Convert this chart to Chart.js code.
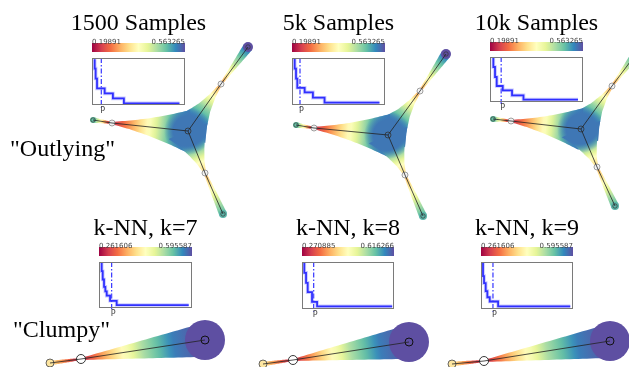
<!DOCTYPE html>
<html>
<head>
<meta charset="utf-8">
<script src="https://cdn.jsdelivr.net/npm/chart.js@4"></script>
<style>
  body { margin: 0; background: #fff; }
  #wrap { position: relative; width: 629px; height: 367px; overflow: hidden; background: #fff; }
  #wrap canvas { position: absolute; }
  .ttl { position: absolute; width: 200px; text-align: center; white-space: nowrap;
         font: 24px "Liberation Serif", "Times New Roman", serif; line-height: 24px; color: #000; }
  .row { position: absolute; white-space: nowrap;
         font: 24px "Liberation Serif", "Times New Roman", serif; line-height: 24px; color: #000; }
</style>
</head>
<body>
<div id="wrap">
  <canvas id="trees" width="629" height="367" style="left:0;top:0"></canvas>
</div>
<script>
// panel titles and colour bar ranges
const titles = ["1500 Samples", "5k Samples", "10k Samples", "k-NN, k=7", "k-NN, k=8", "k-NN, k=9"];
const rowLabels = ['"Outlying"', '"Clumpy"'];
const cbMin = ["0.19891", "0.19891", "0.19891", "0.261606", "0.270885", "0.261606"];
const cbMax = ["0.563265", "0.563265", "0.563265", "0.595587", "0.616266", "0.595587"];

// step curves of the insets (percent of the box)
const stepX = [
  [2.9, 3.9, 5.4, 13.6, 22.5, 34.3, 94],
  [2.9, 4.3, 5.7, 13.6, 22.5, 35, 94],
  [3.6, 5.4, 7.2, 13.7, 23.7, 36, 94.6],
  [2.9, 4, 5.4, 6.8, 8.3, 11.9, 19, 96.4],
  [2.5, 4.4, 6.2, 10.9, 16.4, 98],
  [2.2, 3.3, 5.1, 6.9, 9.5, 18.6, 97]
];
const stepY = [
  [97.2, 77.5, 56.3, 35.2, 24.6, 14.1, 3.5],
  [98.6, 77.5, 56.3, 36.6, 26.8, 15.5, 5],
  [97.8, 77.8, 55.6, 35.6, 26, 14.8, 5.2],
  [98.6, 80, 62, 46, 36, 26.8, 15.7, 6.4],
  [98.6, 77, 55.7, 35.7, 15, 5.7],
  [97.9, 70, 55, 38, 25, 16, 5.6]
];
const pMark = [10, 8.6, 12, 13.6, 12.7, 13];

// "Outlying" skeletons: center, upper node, upper tip, left node, left tip, lower node, lower tip
const outX = [[188, 221, 248, 112, 93, 205, 223], [388, 420, 446, 314, 296, 405, 423], [581, 612, 639, 511, 493, 597, 615]];
const outY = [[131, 84, 47, 123, 120, 173, 214], [135, 91, 54, 128, 125, 175, 216], [129, 86, 50, 121, 119, 167, 206]];
const outEdges = [[1, 2], [3, 4], [5, 6], [0, 1], [0, 3], [0, 5]];
const outVals = [
  [0.26, 0.45, 0.65, 0.8, 0.95],
  [0.06, 0.15, 0.4, 0.65, 0.8],
  [0.32, 0.42, 0.56, 0.7, 0.82],
  [0.93, 0.92, 0.74, 0.5, 0.26],
  [0.93, 0.8, 0.52, 0.28, 0.06],
  [0.93, 0.92, 0.72, 0.5, 0.38]
];
const outThick = [
  [1.2, 2, 3, 4, 5],
  [1.2, 1.4, 1.8, 2.3, 3],
  [1.2, 2, 2.8, 3.4, 4],
  [21, 13, 7, 3.2, 1.2],
  [21, 14.5, 9, 4.5, 1.2],
  [21, 13.5, 8.5, 4, 1.2]
];
const outBlobs = [[0, 24, 0.93, 1], [2, 5, 1.0, 0], [4, 3, 0.8, 0], [6, 4, 0.82, 0]]; // node, radius, value, soft edge

// "Clumpy" skeletons: tip, crossed node, big node
const clX = [[50, 81, 205], [263, 293, 409], [452, 484, 610]];
const clY = [[363, 359, 340], [364, 360, 342], [364, 361, 341]];
const clEdges = [[0, 1], [1, 2]];
const clVals = [[0.42, 0.32, 0.22, 0.12, 0.05], [0.05, 0.38, 0.7, 0.92, 1.0]];
const clThick = [[2.2, 2, 1.7, 1.4, 1], [1, 5, 9, 13, 17]];
const clBlobs = [[2, 20, 1.0, 0]];

// layout of the small step plots
const insetBox = [
  { x: 92, y: 58, w: 93, h: 47 }, { x: 292, y: 58, w: 93, h: 47 }, { x: 490, y: 57, w: 93, h: 45 },
  { x: 99, y: 262, w: 93, h: 46 }, { x: 302, y: 262, w: 92, h: 47 }, { x: 481, y: 262, w: 92, h: 47 }
];

// Spectral, low = red, high = purple
const spectral = ["#9e0142", "#d53e4f", "#f46d43", "#fdae61", "#fee08b", "#ffffbf", "#e6f598", "#abdda4", "#66c2a5", "#3288bd", "#5e4fa2"];
const specRGB = spectral.map(c => [1, 3, 5].map(i => parseInt(c.slice(i, i + 2), 16)));
function cmapRGB(v) {
  v = Math.max(0, Math.min(1, v));
  const f = v * 10, i = Math.min(9, Math.floor(f)), t = f - i;
  const a = specRGB[i], b = specRGB[i + 1];
  return a.map((c, k) => Math.round(c + (b[k] - c) * t));
}
function cmap(v, alpha) {
  const c = cmapRGB(v);
  return alpha === undefined ? "rgb(" + c.join(",") + ")" : "rgba(" + c.join(",") + "," + alpha + ")";
}
function along(arr, t) {
  const f = t * (arr.length - 1), i = Math.min(arr.length - 2, Math.floor(f)), u = f - i;
  return arr[i] + (arr[i + 1] - arr[i]) * u;
}
// add a polygon to the current path, always with the same winding
function addPoly(ctx, poly) {
  let area = 0;
  poly.forEach((p, j) => { const q = poly[(j + 1) % poly.length]; area += p[0] * q[1] - q[0] * p[1]; });
  const list = area < 0 ? poly.slice().reverse() : poly;
  list.forEach((p, j) => j ? ctx.lineTo(p[0], p[1]) : ctx.moveTo(p[0], p[1]));
  ctx.closePath();
}

const wrap = document.getElementById("wrap");

// ---------- titles ----------
const cbCenters = insetBox.map(b => b.x + b.w / 2);
titles.forEach((t, i) => {
  const d = document.createElement("div");
  d.className = "ttl";
  d.textContent = t;
  d.style.left = (cbCenters[i] - 100) + "px";
  d.style.top = (i < 3 ? 10 : 215) + "px";
  wrap.appendChild(d);
});
[[10, 136], [13, 317]].forEach((p, i) => {
  const d = document.createElement("div");
  d.className = "row";
  d.textContent = rowLabels[i];
  d.style.left = p[0] + "px";
  d.style.top = p[1] + "px";
  wrap.appendChild(d);
});

// ---------- skeleton chart ----------
const trees = [];
for (let i = 0; i < 3; i++) trees.push({ x: outX[i], y: outY[i], edges: outEdges, vals: outVals, thick: outThick, blobs: outBlobs });
for (let i = 0; i < 3; i++) trees.push({ x: clX[i], y: clY[i], edges: clEdges, vals: clVals, thick: clThick, blobs: clBlobs });

const tubePlugin = {
  id: "tubes",
  beforeDatasetsDraw(chart) {
    const ctx = chart.ctx, sx = chart.scales.x, sy = chart.scales.y;
    const unit = sx.getPixelForValue(1) - sx.getPixelForValue(0);
    ctx.save();
    trees.forEach(tr => {
      const px = i => sx.getPixelForValue(tr.x[i]);
      const py = i => sy.getPixelForValue(tr.y[i]);
      const polysAt = {};
      tr.edges.forEach((e, k) => {
        const ax = px(e[0]), ay = py(e[0]), bx = px(e[1]), by = py(e[1]);
        const dx = bx - ax, dy = by - ay, len = Math.hypot(dx, dy);
        const nx = -dy / len, ny = dx / len;
        const L = [], R = [];
        for (let j = 0; j <= 30; j++) {
          const t = j / 30, w = along(tr.thick[k], t) * unit;
          const cx = ax + dx * t, cy = ay + dy * t;
          L.push([cx + nx * w, cy + ny * w]);
          R.push([cx - nx * w, cy - ny * w]);
        }
        const poly = L.concat(R.reverse());
        (polysAt[e[0]] = polysAt[e[0]] || []).push(poly);
        const g = ctx.createLinearGradient(ax, ay, bx, by);
        for (let j = 0; j <= 24; j++) g.addColorStop(j / 24, cmap(along(tr.vals[k], j / 24)));
        ctx.beginPath();
        addPoly(ctx, poly);
        ctx.fillStyle = g;
        ctx.fill();
      });
      tr.blobs.forEach(b => {
        const cx = px(b[0]), cy = py(b[0]), r = b[1] * unit;
        ctx.save();
        if (b[3]) {
          // soft centre, kept inside the branch outlines plus a small core disc
          ctx.beginPath();
          (polysAt[b[0]] || []).forEach(p => addPoly(ctx, p));
          const core = [];
          for (let j = 0; j < 40; j++) core.push([cx + Math.cos(j / 40 * 2 * Math.PI) * r * 0.72, cy + Math.sin(j / 40 * 2 * Math.PI) * r * 0.72]);
          addPoly(ctx, core);
          ctx.clip();
          const g = ctx.createRadialGradient(cx, cy, 0, cx, cy, r);
          g.addColorStop(0, cmap(b[2], 1));
          g.addColorStop(0.62, cmap(b[2], 1));
          g.addColorStop(1, cmap(b[2], 0));
          ctx.fillStyle = g;
        } else {
          ctx.fillStyle = cmap(b[2]);
        }
        ctx.beginPath();
        ctx.arc(cx, cy, r, 0, Math.PI * 2);
        ctx.fill();
        ctx.restore();
      });
    });
    ctx.restore();
  }
};

const treeSets = [];
function pts(tr, idx) { return idx.map(i => ({ x: tr.x[i], y: tr.y[i] })); }
trees.forEach((tr, n) => {
  tr.edges.forEach(e => treeSets.push({
    data: pts(tr, e), showLine: true, borderColor: "#222", borderWidth: 0.8, pointRadius: 0
  }));
  if (n < 3) {
    treeSets.push({ data: pts(tr, [0]), pointRadius: 3, pointBackgroundColor: "rgba(0,0,0,0)", pointBorderColor: "#333", pointBorderWidth: 0.8 });
    treeSets.push({ data: pts(tr, [1, 3, 5]), pointRadius: 3, pointBackgroundColor: "#f2f2f2", pointBorderColor: "#8a8a8a", pointBorderWidth: 0.8 });
    treeSets.push({ data: pts(tr, [1, 3, 5]), pointStyle: "crossRot", pointRadius: 2.6, pointBorderColor: "#8a8a8a", pointBorderWidth: 0.7 });
    treeSets.push({ data: pts(tr, [2, 4, 6]), pointRadius: 2.2, pointBackgroundColor: "rgba(0,0,0,0)", pointBorderColor: "#333", pointBorderWidth: 0.7 });
  } else {
    treeSets.push({ data: pts(tr, [2]), pointRadius: 4, pointBackgroundColor: "rgba(0,0,0,0)", pointBorderColor: "#111", pointBorderWidth: 1 });
    treeSets.push({ data: pts(tr, [1]), pointRadius: 4.5, pointBackgroundColor: "#fff", pointBorderColor: "#222", pointBorderWidth: 0.9 });
    treeSets.push({ data: pts(tr, [1]), pointStyle: "crossRot", pointRadius: 4, pointBorderColor: "#222", pointBorderWidth: 0.9 });
    treeSets.push({ data: pts(tr, [0]), pointRadius: 4, pointBackgroundColor: "#fee6a0", pointBorderColor: "#555", pointBorderWidth: 0.9 });
  }
});

new Chart(document.getElementById("trees"), {
  type: "scatter",
  data: { datasets: treeSets },
  options: {
    responsive: false,
    animation: false,
    events: [],
    layout: { padding: 0, autoPadding: false },
    plugins: { legend: { display: false }, tooltip: { enabled: false } },
    scales: {
      x: { type: "linear", min: 0, max: 629, display: false },
      y: { type: "linear", min: 0, max: 367, reverse: true, display: false }
    }
  },
  plugins: [tubePlugin]
});

// ---------- step insets ----------
const insetPlugin = {
  id: "inset",
  beforeDraw(chart) {
    const i = chart.options.plugins.inset.idx;
    const a = chart.chartArea, ctx = chart.ctx;
    const top = a.top - 15, w = a.right - a.left;
    const g = ctx.createLinearGradient(a.left, 0, a.right, 0);
    for (let j = 0; j <= 20; j++) g.addColorStop(j / 20, cmap(j / 20));
    ctx.save();
    ctx.fillStyle = g;
    ctx.fillRect(a.left, top, w, 9);
    ctx.fillStyle = "#444";
    ctx.font = '7px "DejaVu Sans", sans-serif';
    ctx.textBaseline = "alphabetic";
    ctx.textAlign = "left";
    ctx.fillText(cbMin[i], a.left, top + 0.5);
    ctx.textAlign = "right";
    ctx.fillText(cbMax[i], a.right, top + 0.5);
    ctx.restore();
  },
  afterDraw(chart) {
    const i = chart.options.plugins.inset.idx;
    const a = chart.chartArea, ctx = chart.ctx;
    ctx.save();
    ctx.strokeStyle = "#7a7a7a";
    ctx.lineWidth = 1;
    ctx.strokeRect(Math.round(a.left) + 0.5, Math.round(a.top) + 0.5, Math.round(a.right - a.left) - 1, Math.round(a.bottom - a.top) - 1);
    const xp = chart.scales.x.getPixelForValue(pMark[i]);
    ctx.fillStyle = "#444";
    ctx.font = '8px "DejaVu Sans", sans-serif';
    ctx.textAlign = "left";
    ctx.fillText("P", xp - 1, a.bottom + 8);
    ctx.restore();
  }
};

insetBox.forEach((b, i) => {
  const cv = document.createElement("canvas");
  cv.width = b.w + 12;
  cv.height = b.h + 36;
  cv.style.left = (b.x - 6) + "px";
  cv.style.top = (b.y - 24) + "px";
  wrap.appendChild(cv);
  const steps = stepX[i].map((x, k) => ({ x: x, y: stepY[i][k] }));
  new Chart(cv, {
    type: "line",
    data: {
      datasets: [
        { data: steps, stepped: "after", borderColor: "rgba(120,120,255,0.4)", borderWidth: 3.6, pointRadius: 0 },
        { data: steps, stepped: "after", borderColor: "#0000ff", borderWidth: 1.8, pointRadius: 0 },
        { data: [{ x: pMark[i], y: 100 }, { x: pMark[i], y: -6 }], borderColor: "#3535ff", borderWidth: 1.2,
          borderDash: [5, 2, 1.5, 2], pointRadius: 0, clip: false }
      ]
    },
    options: {
      responsive: false,
      animation: false,
      events: [],
      layout: { padding: { left: 6, right: 6, top: 24, bottom: 12 }, autoPadding: false },
      plugins: { legend: { display: false }, tooltip: { enabled: false }, inset: { idx: i } },
      scales: {
        x: { type: "linear", min: 0, max: 100, display: false },
        y: { type: "linear", min: 0, max: 100, display: false }
      }
    },
    plugins: [insetPlugin]
  });
});
</script>
</body>
</html>
